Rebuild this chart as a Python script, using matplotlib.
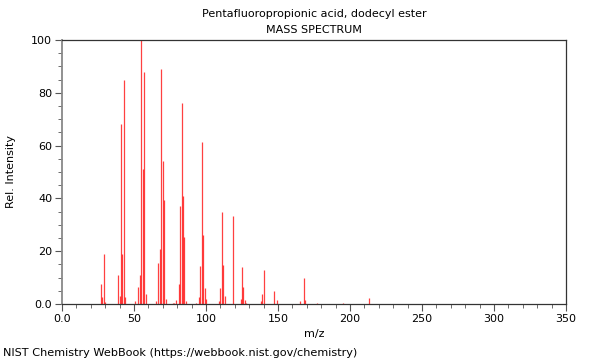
import matplotlib
matplotlib.use("Agg")
import matplotlib.pyplot as plt
from matplotlib.ticker import MultipleLocator

mz = [27, 28, 29, 30, 39, 40, 41, 42, 43, 44, 51, 53, 54, 55, 56, 57, 58,
      65, 67, 68, 69, 70, 71, 72, 77, 78, 79, 81, 82, 83, 84, 85, 86,
      93, 95, 96, 97, 98, 99, 100, 109, 110, 111, 112, 113, 119,
      124, 125, 126, 127, 128, 138, 139, 140, 147, 149, 165, 168, 169, 177, 195, 213]
intensity = [7.5, 2.5, 19, 0.7, 11, 3, 68, 19, 85, 2.5, 1, 6.5, 11, 100, 51, 88, 3.8,
             1, 15.6, 21, 89, 54, 39.4, 2, 0.5, 0.5, 1.5, 7.6, 37, 76, 41, 25.5, 1,
             0.5, 2.8, 14.5, 61.5, 26, 6, 2, 1, 6, 35, 14.7, 3, 33.4,
             2, 14, 6.5, 1.5, 0.5, 1.3, 3.7, 13, 5, 1.5, 1, 9.7, 1.5, 0.5, 0.3, 2.2]

title1 = "Pentafluoropropionic acid, dodecyl ester"
title2 = "MASS SPECTRUM"
xticks = [0, 50, 100, 150, 200, 250, 300, 350]
xticklabels = ["0.0", "50", "100", "150", "200", "250", "300", "350"]
yticks = [0, 20, 40, 60, 80, 100]
yticklabels = ["0.0", "20", "40", "60", "80", "100"]

plt.rcParams['font.family'] = ['DejaVu Sans']
fig = plt.figure(figsize=(6, 3.6), dpi=100)
ax = fig.add_axes([62/600, 1-304/360, 504/600, 264/360])
ax.vlines(mz, 0, intensity, colors='#ff0000', linewidth=0.9, alpha=0.75)
ax.set_xlim(0, 350)
ax.set_ylim(0, 100)
ax.set_xticks(xticks)
ax.set_xticklabels(xticklabels, fontsize=8)
ax.set_yticks(yticks)
ax.set_yticklabels(yticklabels, fontsize=8)
ax.xaxis.set_minor_locator(MultipleLocator(10))
ax.yaxis.set_minor_locator(MultipleLocator(5))
ax.tick_params(which='major', length=5, width=0.8, color='#555555', pad=2)
ax.tick_params(which='minor', length=3, width=0.6, color='#555555')
for s in ax.spines.values():
    s.set_color('#333333')
    s.set_linewidth(0.9)
ax.spines['left'].set_color('#888888')
ax.spines['left'].set_linewidth(1.3)
ax.set_xlabel("m/z", fontsize=8, labelpad=4)
ax.set_ylabel("Rel. Intensity", fontsize=8)
ax.yaxis.set_label_coords((16 - 62) / 504, 0.5)
fig.text(314/600, 1-14/360, title1, ha='center', va='center', fontsize=8)
fig.text(314/600, 1-30/360, title2, ha='center', va='center', fontsize=8)
fig.text(3/600, 1-353/360, "NIST Chemistry WebBook (https://webbook.nist.gov/chemistry)",
         ha='left', va='center', fontsize=8.15)
fig.savefig("out.png", dpi=100)
